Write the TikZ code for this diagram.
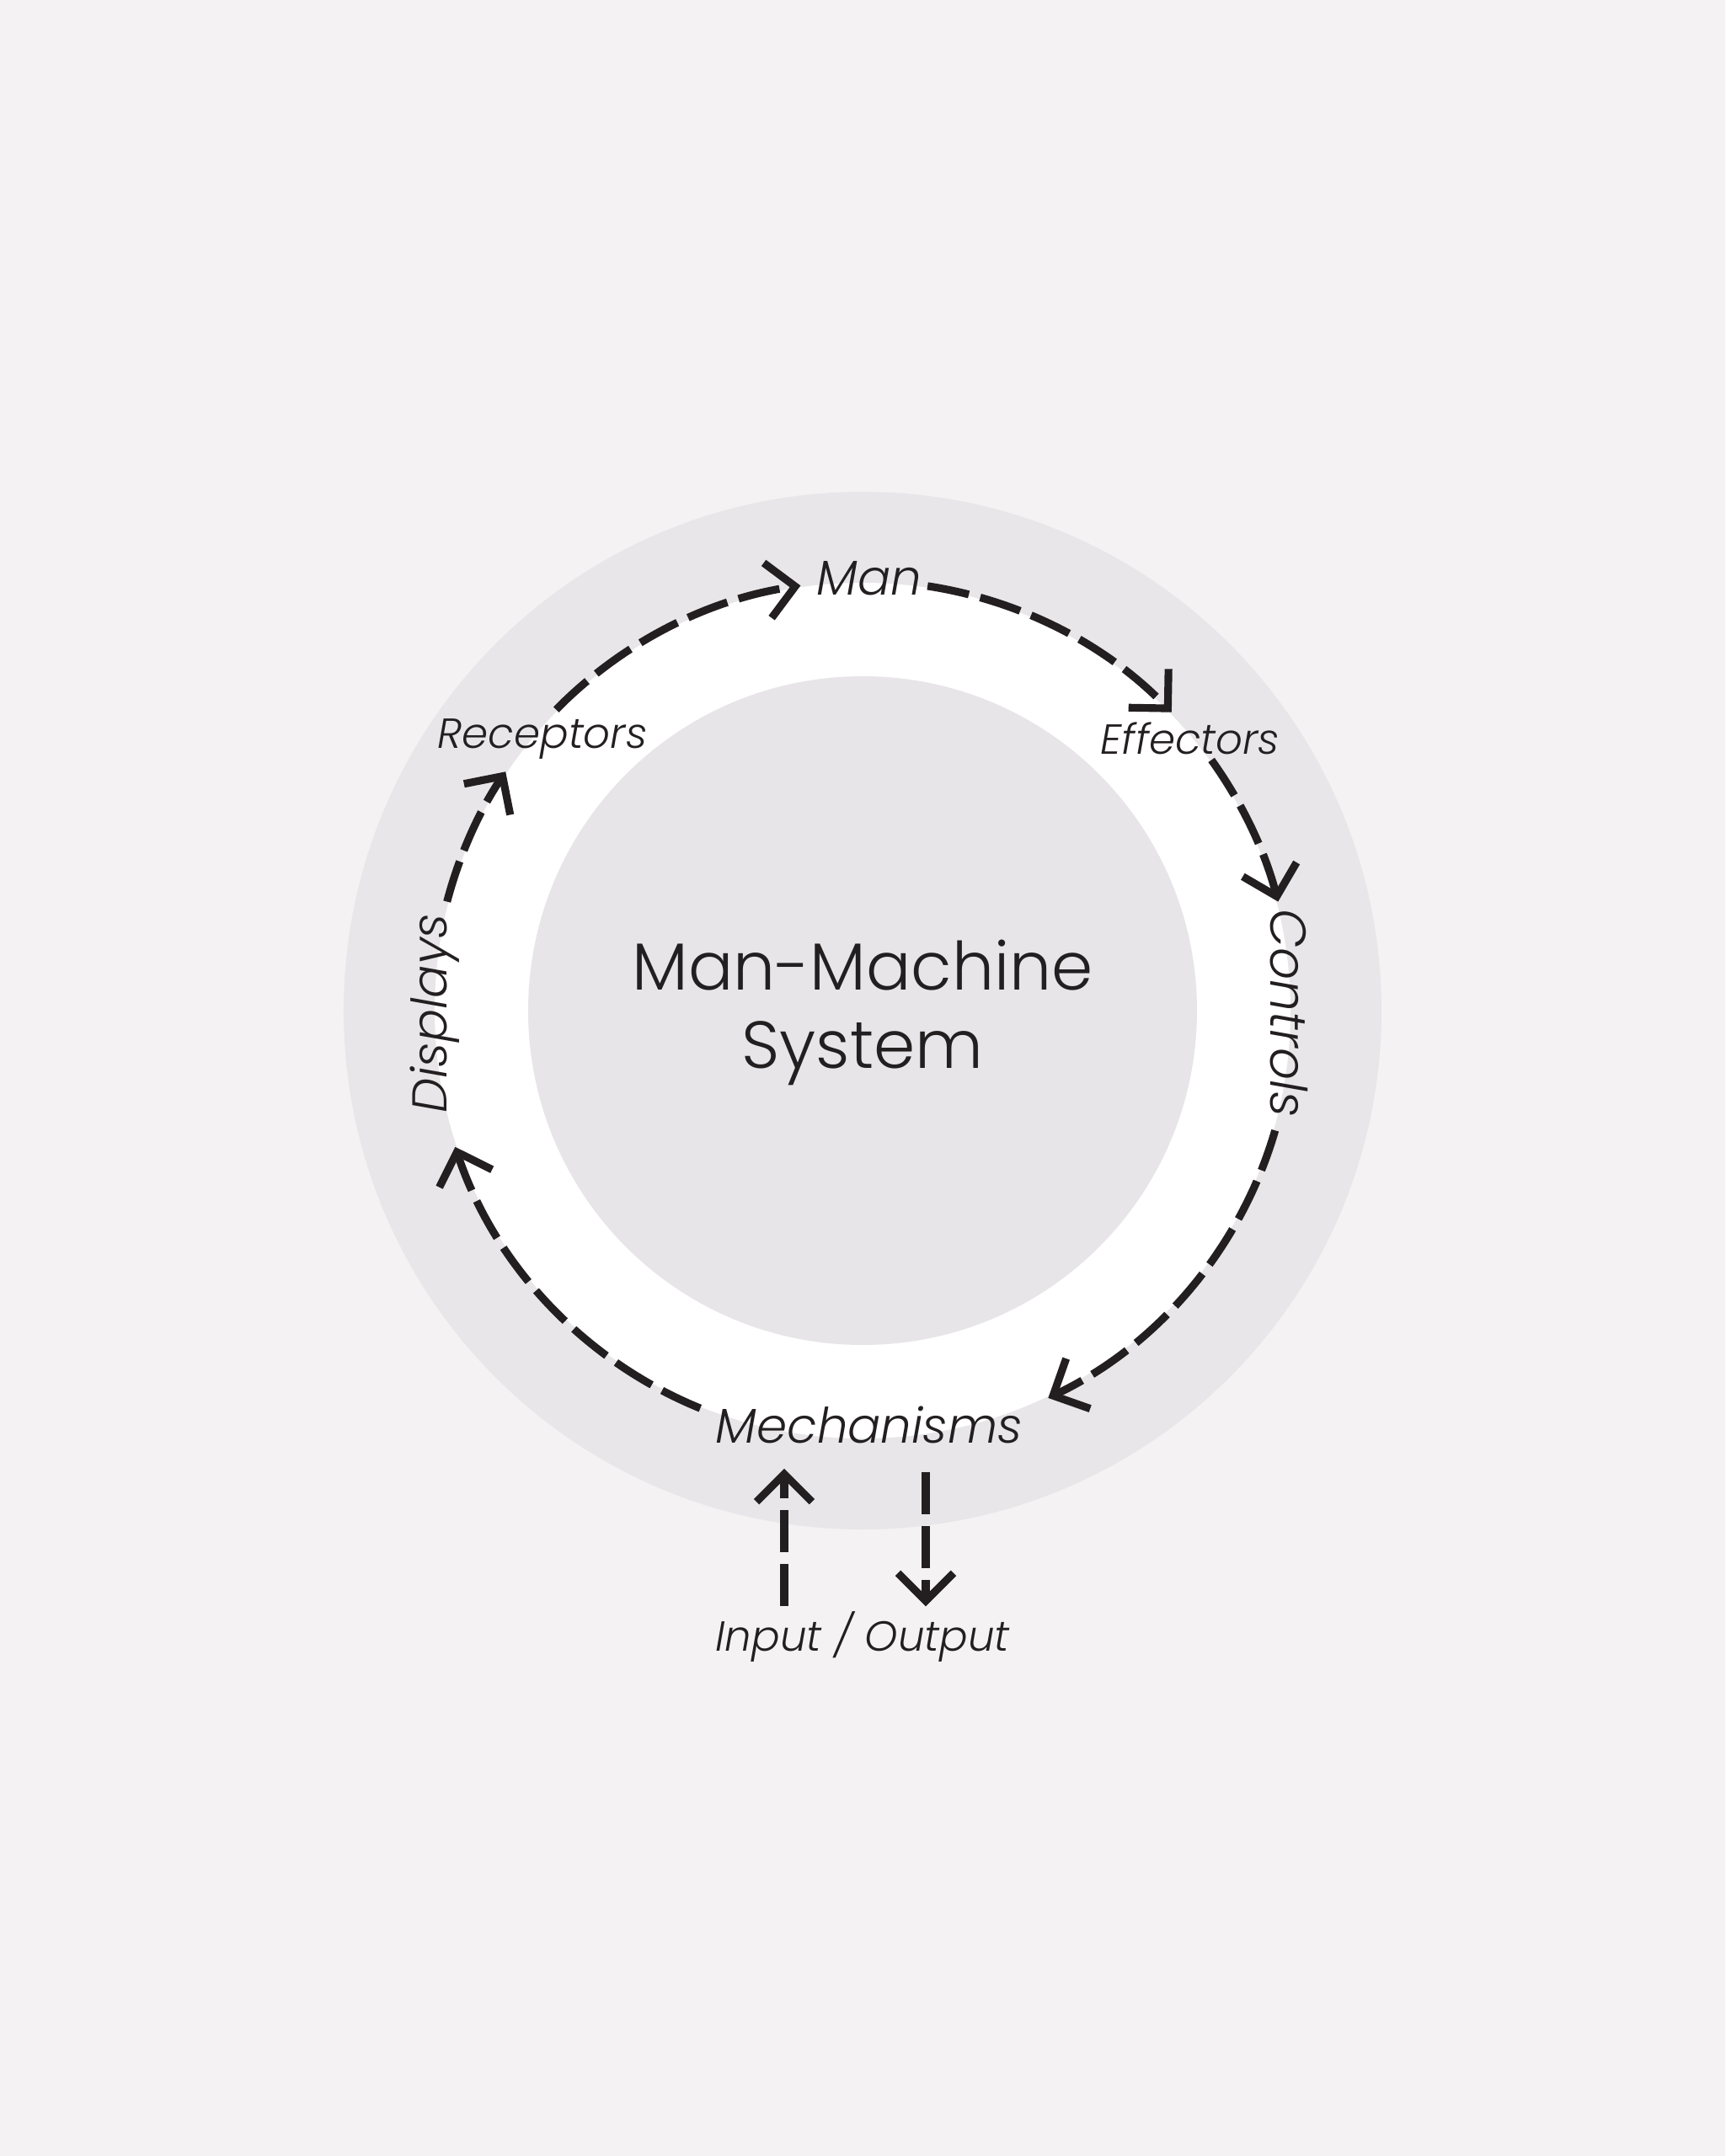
\documentclass[tikz,border=0pt]{standalone}
\usepackage{fontspec}
\setmainfont{Poppins}[UprightFont=* Light, ItalicFont=* Light Italic]
\usetikzlibrary{arrows.meta}
\definecolor{mmback}{HTML}{F4F2F3}
\definecolor{mmring}{HTML}{E8E6E8}
\definecolor{mmcore}{HTML}{E7E5E8}
\definecolor{mmink}{HTML}{231F20}

\begin{document}
\begin{tikzpicture}[
  big/.style={font=\fontsize{16.5}{19}\selectfont\itshape, text=mmink, inner sep=2pt},
  small/.style={font=\fontsize{14.2}{16}\selectfont\itshape, text=mmink, inner sep=2pt},
  title/.style={font=\fontsize{22.5}{26.5}\selectfont, text=mmink, align=center},
  arr/.style={draw=mmink, line width=2.6pt, dash pattern=on 5mm off 1.4mm, -{Straight Barb[length=3.3mm, width=6.6mm]}},
]
  \useasboundingbox[fill=mmback] (-10.24,-13.6) rectangle (10.24,12.0);
  \fill[mmring] (0,0) circle (6.16);
  \fill[white] (0,0) circle (5.08);
  \fill[mmcore] (0,0) circle (3.97);

  \node[title] (mms) at (0,-0.02) {Man-Machine\\System};
  \node[big] (man) at (0.08,5.13) {Man};
  \node[small] (effect) at (3.89,3.23) {Effectors};
  \node[big, font=\fontsize{17}{19}\selectfont\itshape, rotate=-90] (ctrl) at (5.06,-0.03) {Controls};
  \node[big] (mech) at (0.08,-4.92) {Mechanisms};
  \node[big, rotate=90] (disp) at (-5.08,-0.03) {Displays};
  \node[small] (recep) at (-3.80,3.23) {Receptors};
  \node[small] (io) at (0,-7.43) {Input / Output};

  % loop round the ring
  \path (135.5:5.1) coordinate (r2m) (81.3:5.1) coordinate (m2e)
        (35.7:5.1) coordinate (e2c) (-16.2:5.1) coordinate (c2m)
        (247.8:5.1) coordinate (m2d) (165.3:5.1) coordinate (d2r);
  \draw[arr] (r2m) arc[start angle=135.5, end angle=98.3, radius=5.1];
  \draw[arr] (m2e) arc[start angle=81.3, end angle=44, radius=5.1];
  \draw[arr] (e2c) arc[start angle=35.7, end angle=14.7, radius=5.1];
  \draw[arr] (c2m) arc[start angle=-16.2, end angle=-64.4, radius=5.1];
  \draw[arr] (m2d) arc[start angle=247.8, end angle=198.5, radius=5.1];
  \draw[arr] (d2r) arc[start angle=165.3, end angle=146.2, radius=5.1];

  % in and out
  \coordinate (inx) at (-0.93,0);
  \coordinate (outx) at (0.75,0);
  \draw[arr] ([yshift=-0.02cm]io.north -| inx) -- ([yshift=-0.22cm]mech.south -| inx);
  \draw[arr] ([yshift=-0.26cm]mech.south -| outx) -- ([yshift=-0.02cm]io.north -| outx);
\end{tikzpicture}
\end{document}
